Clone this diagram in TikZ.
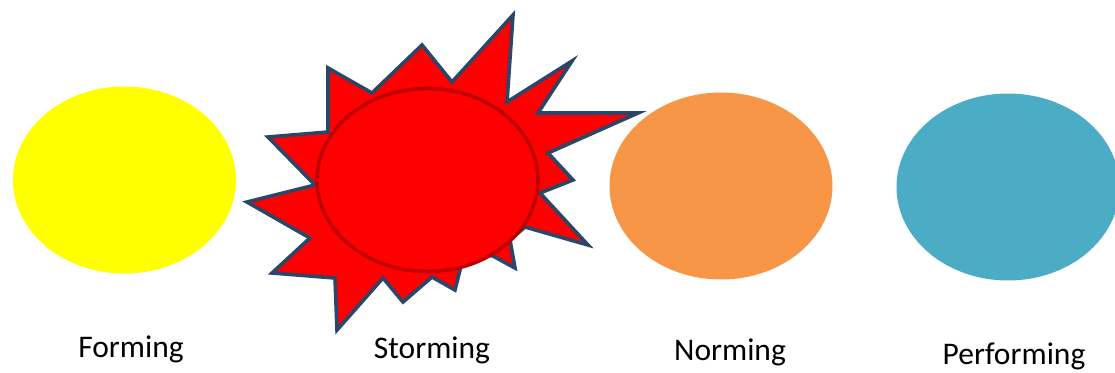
\documentclass[tikz,border=0pt]{standalone}
\usepackage{fontspec}
\setmainfont{Carlito}
\usepackage{tikz}
\usetikzlibrary{shapes.geometric}

\definecolor{formfill}{HTML}{FFFF00}
\definecolor{stormfill}{HTML}{FF0000}
\definecolor{stormline}{HTML}{C00000}
\definecolor{burstline}{HTML}{2A4668}
\definecolor{normfill}{HTML}{F79646}
\definecolor{perffill}{HTML}{4BACC6}

\begin{document}
\begin{tikzpicture}[
    x=1pt, y=-1pt,
    stage/.style={ellipse, draw=none, inner sep=0pt, minimum width=223pt, minimum height=187pt},
    burst/.style={fill=stormfill, draw=burstline, line width=3.6pt, line join=miter},
    label/.style={anchor=base, font=\fontsize{31.5}{36}\selectfont, text=black}
]
\useasboundingbox (0,0) rectangle (1115,372);

% STORMING BURST
\draw[burst] (513,15) -- (507,102) -- (572,61) -- (538,113) -- (638,113)
    -- (548,153) -- (573,180) -- (540,193) -- (588,245) -- (525,227)
    -- (510,240) -- (515,268) -- (493,256) -- (465,250) -- (455,290)
    -- (432,277) -- (403,302) -- (383,278) -- (337,330) -- (335,278)
    -- (272,273) -- (310,238) -- (247,202) -- (315,185) -- (268,137)
    -- (328,132) -- (328,68) -- (372,93) -- (422,45) -- (452,82) -- cycle;

% STAGES
\node[stage, fill=formfill] (forming) at (124.5,180) {};
\node[stage, fill=stormfill, draw=stormline, line width=3.6pt, minimum width=221pt, minimum height=183pt] (storming) at (427.5,180) {};
\node[stage, fill=normfill] (norming) at (721,186) {};
\node[stage, fill=perffill] (performing) at (1008,187) {};

% LABELS
\node[label] (lforming) at (131,357) {Forming};
\node[label] (lstorming) at (432,358) {Storming};
\node[label] (lnorming) at (730,360) {Norming};
\node[label] (lperforming) at (1014,364) {Performing};

\end{tikzpicture}
\end{document}
